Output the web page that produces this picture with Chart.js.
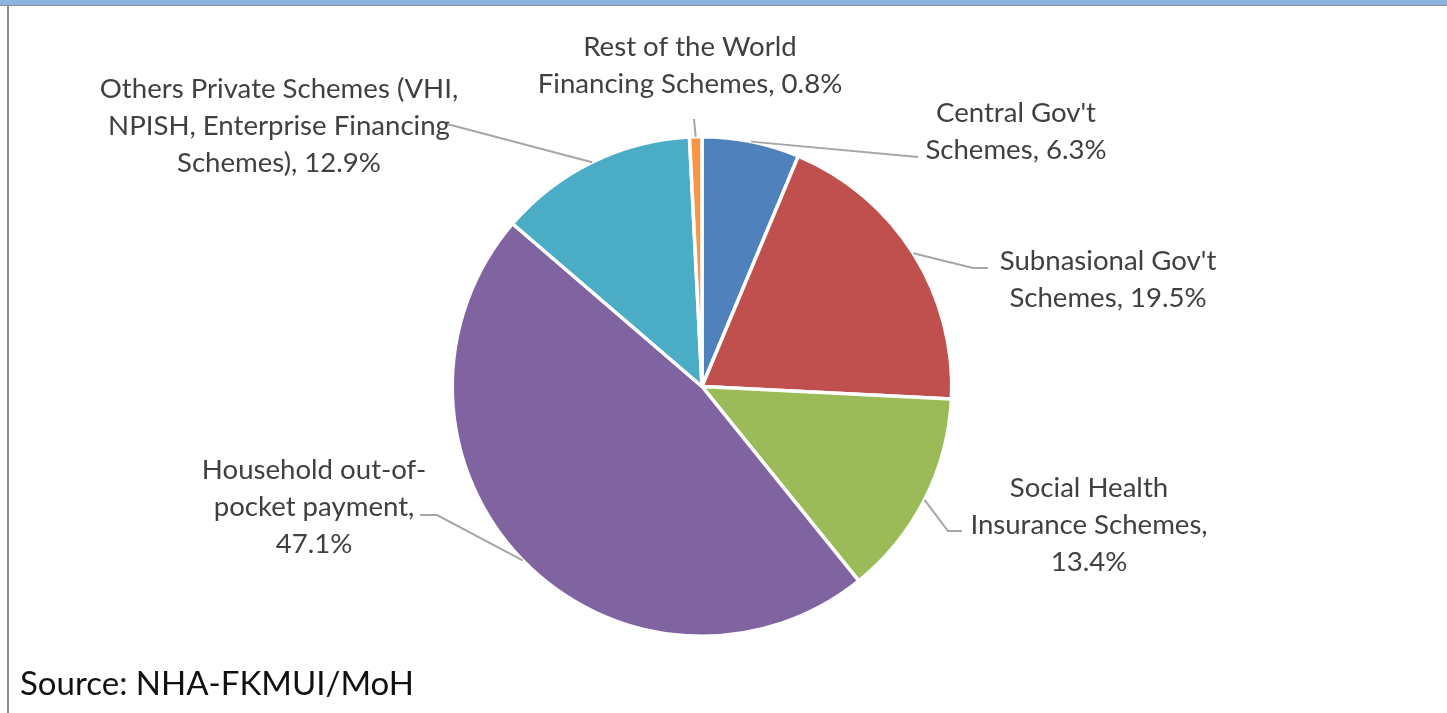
<!DOCTYPE html>
<html>
<head>
<meta charset="utf-8">
<script src="https://cdn.jsdelivr.net/npm/chart.js@4/dist/chart.umd.min.js"></script>
<style>
  body { margin: 0; background: #fff; }
  #wrap { position: relative; width: 1447px; height: 713px; overflow: hidden; }
  #pie { position: absolute; left: 0; top: 0; }
  #topbar { position: absolute; left: 0; top: 0; width: 1447px; height: 5px; background: #8DB3E2; border-bottom: 1px solid #8C8C8C; }
  #leftline { position: absolute; left: 7px; top: 6px; width: 2px; height: 707px; background: #8C8C8C; }
  #source { position: absolute; left: 20px; top: 666px; font-family: Lato, sans-serif; font-size: 33px; color: #111; line-height: 1; }
</style>
</head>
<body>
<div id="wrap">
  <canvas id="pie" width="1447" height="713"></canvas>
  <div id="topbar"></div>
  <div id="leftline"></div>
  <div id="source">Source: NHA-FKMUI/MoH</div>
</div>
<script>
const categories = [
    "Central Gov't Schemes",
    "Subnasional Gov't Schemes",
    "Social Health Insurance Schemes",
    "Household out-of-pocket payment",
    "Others Private Schemes (VHI, NPISH, Enterprise Financing Schemes)",
    "Rest of the World Financing Schemes"
];
const shares = [6.3, 19.5, 13.4, 47.1, 12.9, 0.8];
const colors = ['#4F81BD', '#C0504D', '#9BBB59', '#8064A2', '#4BACC6', '#F79646'];

// label text lines (last line gets the value), where to put them and leader bends
const labelLines = [
    ["Central Gov't", "Schemes, "],
    ["Subnasional Gov't", "Schemes, "],
    ["Social Health", "Insurance Schemes,", ""],
    ["Household out-of-", "pocket payment,", ""],
    ["Others Private Schemes (VHI,", "NPISH, Enterprise Financing", "Schemes), "],
    ["Rest of the World", "Financing Schemes, "]
];
const labelPos = [[1016, 113], [1108, 261], [1089, 488], [314, 470], [279, 89], [690, 47]];
const leaderPts = [
    [[918, 157]],
    [[973, 268], [988, 268]],
    [[948, 531], [962, 531]],
    [[437, 515], [420, 515]],
    [[447, 124]],
    [[694, 119]]
];

const pieLabels = {
    id: 'pieLabels',
    afterDatasetsDraw(chart) {
        const ctx = chart.ctx;
        const arcs = chart.getDatasetMeta(0).data;
        ctx.save();
        ctx.strokeStyle = '#A6A6A6';
        ctx.lineWidth = 2;
        arcs.forEach((arc, i) => {
            const mid = (arc.startAngle + arc.endAngle) / 2;
            ctx.beginPath();
            ctx.moveTo(arc.x + Math.cos(mid) * arc.outerRadius, arc.y + Math.sin(mid) * arc.outerRadius);
            leaderPts[i].forEach(p => ctx.lineTo(p[0], p[1]));
            ctx.stroke();
        });
        ctx.font = '27.6px Lato';
        ctx.fillStyle = '#404040';
        ctx.textAlign = 'center';
        ctx.textBaseline = 'middle';
        labelLines.forEach((lines, i) => {
            lines.forEach((t, j) => {
                let txt = t;
                if (j === lines.length - 1) txt += shares[i].toFixed(1) + '%';
                ctx.fillText(txt, labelPos[i][0], labelPos[i][1] + j * 37);
            });
        });
        ctx.restore();
    }
};

new Chart(document.getElementById('pie'), {
    type: 'pie',
    data: {
        labels: categories,
        datasets: [{
            data: shares,
            backgroundColor: colors,
            borderColor: '#fff',
            borderWidth: 3.5
        }]
    },
    options: {
        responsive: false,
        animation: false,
        layout: { padding: { top: 135, bottom: 75, left: 0, right: 43 } },
        plugins: {
            legend: { display: false },
            tooltip: { enabled: false }
        }
    },
    plugins: [pieLabels]
});
</script>
</body>
</html>
